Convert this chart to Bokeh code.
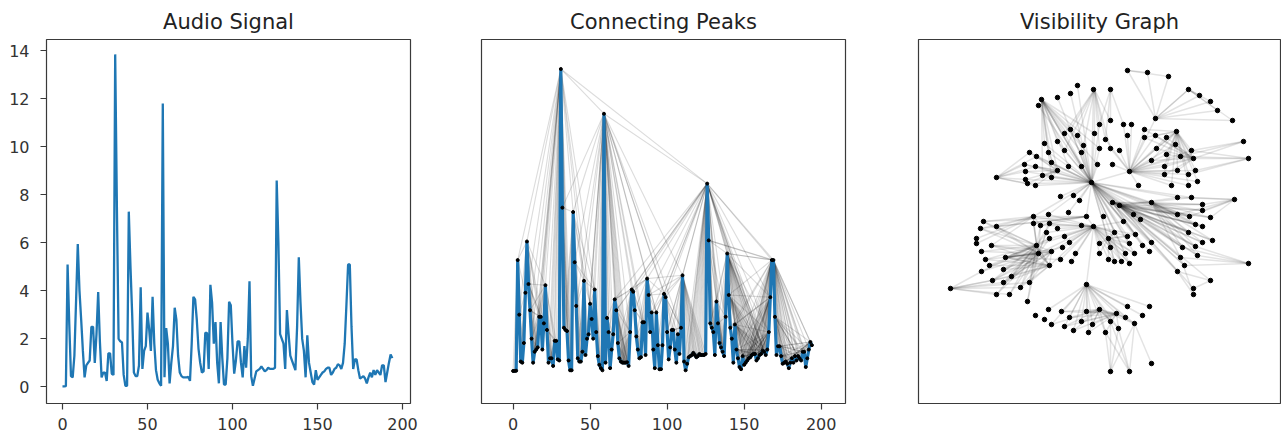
from bokeh.plotting import figure
from bokeh.layouts import row
from bokeh.models import Range1d, FixedTicker
from bokeh.embed import file_html
from bokeh.resources import INLINE

titles = ["Audio Signal", "Connecting Peaks", "Visibility Graph"]
x_ticks = [0, 50, 100, 150, 200]
y_ticks = [0, 2, 4, 6, 8, 10, 12, 14]

signal = [
    .02, .02, .03, 5.1, 2.6, .45, .4, 1.3, 3.6, 5.95,
    4.0, 2.8, 1.5, .4, .9, 1.0, 1.1, 2.5, 2.5, 1.0,
    2.2, 3.95, 1.9, .4, .6, .6, .25, 1.4, 1.4, .55,
    .5, 13.85, 7.5, 2.0, 1.9, 1.85, .5, .05, .05, 7.3,
    5.0, 3.0, .6, .45, .45, .9, 4.15, .75, 1.5, 1.7,
    3.1, 2.4, 1.5, 3.75, 1.8, .7, .3, .15, .05, 11.8,
    .4, 2.45, 1.8, .15, 1.0, 1.7, 3.3, 2.8, 1.3, .6,
    .45, .4, .4, .4, .42, .25, 1.8, 3.75, 3.65, 2.8,
    1.6, 1.0, .6, .65, 2.25, 2.25, .75, 4.25, 3.5, 1.8,
    2.7, 1.0, .15, 2.7, 1.2, .1, .1, 1.2, 3.55, 3.4,
    1.8, .55, 1.1, 1.9, 1.9, 1.0, .4, 1.7, .8, 2.0,
    4.4, .45, .05, .35, .65, .7, .75, .85, .75, .65,
    .7, .8, .75, .75, .75, .8, 8.6, 6.0, 2.2, 2.0,
    1.8, .75, 3.2, 2.2, 1.3, 1.1, .9, .7, 2.5, 5.4,
    3.5, 2.0, 1.5, .4, 2.15, 1.0, .6, .2, .1, .7,
    .3, .4, .5, .6, .65, .75, .8, .8, .5, .6,
    .75, .8, .95, .9, .75, 1.0, 1.8, 3.4, 5.1, 5.1,
    2.5, .75, 1.15, 1.15, .7, .35, .4, .45, .35, .15,
    .4, .6, .4, .7, .5, .7, .6, .5, .9, .9,
    .2, .6, 1.0, 1.35, 1.2,
]

graph_x = [
    1077, 1093, 1070, 1057, 1041, 1038, 1070, 1064, 1077, 1094, 1057, 1044, 1083,
    1029, 1048, 1064, 1081, 1036, 1024, 1035, 1051, 1068, 1081, 1057, 1025, 1042,
    1051, 996, 1025, 1027, 1035, 1091, 1060, 1073, 1079, 1033, 1048, 1068, 1086,
    1127, 1147, 1168, 1110, 1188, 1199, 1210, 1217, 1232, 1155, 1110, 1099, 1123,
    1131, 1144, 1176, 1144, 1155, 1166, 1127, 1105, 1175, 1243, 1099, 1110, 1119,
    1156, 1191, 1166, 1180, 1193, 1248, 1151, 1097, 1112, 1164, 1177, 1195, 1129,
    1164, 1188, 1197, 1171, 1188, 1138, 1177, 1191, 1234, 1151, 1112, 1119, 1202,
    1202, 1133, 1177, 1189, 1210, 1103, 1140,
    983, 996, 980, 1033, 1040, 1049, 1057, 1081, 1093, 1046, 976, 976, 1049, 1064,
    1069, 991, 1036, 1062, 1051, 1038, 1075, 981, 1005, 985, 1060, 1071, 989, 1049,
    1003, 981, 1011, 992, 1003, 1029, 1086, 1020, 950, 996, 1009, 1027, 1048, 1061,
    1086, 1035, 1069, 1044, 1081, 1092, 1051, 1064, 1073, 1088,
    1123, 1195, 1202, 1114, 1135, 1188, 1127, 1108, 1202, 1212, 1151, 1129, 1099,
    1142, 1195, 1182, 1110, 1149, 1125, 1134, 1099, 1180, 1197, 1108, 1114, 1121,
    1129, 1184, 1248, 1177, 1210, 1193, 1193, 1127, 1149, 1099, 1116, 1142, 1125,
    1110, 1134, 1118, 1105, 1151, 1110, 1129,
]
graph_y = [
    85, 89, 93, 97, 99, 105, 129, 133, 135, 133, 141, 143, 145,
    152, 152, 150, 152, 156, 164, 166, 162, 166, 166, 170, 171, 175,
    177, 177, 179, 183, 185, 182, 196, 195, 200, 216, 214, 212, 216,
    70, 72, 76, 89, 89, 95, 101, 110, 120, 118, 120, 124, 124,
    124, 129, 131, 137, 135, 137, 135, 139, 144, 141, 148, 148, 150,
    148, 150, 154, 156, 158, 158, 160, 164, 164, 166, 170, 170, 171,
    174, 174, 181, 185, 185, 185, 197, 197, 199, 202, 202, 205, 204,
    210, 214, 214, 216, 217, 216, 219,
    221, 226, 228, 223, 225, 223, 228, 225, 226, 232, 238, 243, 238, 236,
    242, 245, 245, 247, 251, 253, 253, 251, 257, 259, 259, 261, 265, 265,
    269, 271, 276, 280, 282, 282, 284, 287, 288, 294, 294, 301, 309, 311,
    311, 315, 317, 319, 321, 324, 324, 326, 330, 332,
    221, 224, 226, 232, 234, 232, 236, 238, 242, 240, 242, 243, 243,
    245, 246, 247, 247, 251, 253, 253, 253, 257, 255, 259, 261, 261,
    263, 265, 263, 271, 280, 288, 294, 306, 306, 309, 313, 315, 317,
    321, 323, 328, 332, 363, 371, 371,
]

# which nodes each hub is joined to: a hub and the patch of the layout it fans out over
hub_x = [1091, 1091, 1129, 1155, 1176, 1093, 1093, 1086, 1038, 1036, 1051, 1049, 996, 950,
         1110, 1129, 1151, 1243, 1248, 1248, 1234, 1210, 1193, 1188, 1094, 1110, 1041,
         1108, 1057, 1086, 1033, 1151, 1112, 1119, 1093, 1091, 1155, 1127,
         1099, 1116, 1005, 1193]
hub_y = [182, 182, 171, 118, 131, 226, 226, 284, 253, 245, 251, 265, 177, 288,
         371, 371, 363, 141, 158, 263, 199, 280, 294, 89, 89, 89, 99,
         238, 170, 216, 216, 202, 202, 205, 226, 182, 118, 70,
         309, 313, 257, 158]
box_left = [1024, 1110, 1100, 1127, 1144, 1033, 1095, 1048, 980, 980, 990, 985, 1024, 981,
            1100, 1100, 1125, 1176, 1180, 1180, 1177, 1177, 1150, 1155, 1060, 1095, 1040,
            1095, 1024, 980, 976, 1155, 1133, 1177, 1085, 1125, 1125, 1145,
            1048, 1061, 1029, 1144]
box_right = [1100, 1200, 1200, 1232, 1197, 1093, 1135, 1149, 1050, 1050, 1051, 1050, 1036, 1029,
             1135, 1135, 1136, 1195, 1195, 1200, 1212, 1195, 1180, 1232, 1110, 1123, 1100,
             1135, 1060, 1040, 1040, 1212, 1212, 1212, 1090, 1135, 1135, 1170,
             1134, 1134, 1062, 1180]
box_top = [85, 195, 124, 70, 129, 214, 221, 306, 221, 221, 245, 245, 150, 271,
           320, 320, 320, 144, 150, 240, 197, 270, 245, 95, 120, 120, 130,
           232, 150, 214, 221, 200, 199, 197, 280, 165, 165, 70,
           311, 311, 238, 129]
box_bottom = [216, 275, 190, 121, 185, 265, 263, 333, 301, 301, 290, 290, 186, 294,
              333, 333, 330, 160, 175, 265, 222, 290, 272, 125, 150, 140, 182,
              263, 185, 232, 250, 260, 250, 290, 290, 175, 175, 80,
              333, 333, 265, 175]

xs = list(range(len(signal)))


def visibility_edges(y):
    x0, x1, y0, y1 = [], [], [], []
    for a in range(len(y)):
        for b in range(a + 1, len(y)):
            if all(y[c] < y[a] + (y[b] - y[a]) * (c - a) / (b - a) for c in range(a + 1, b)):
                x0.append(a); x1.append(b); y0.append(y[a]); y1.append(y[b])
    return x0, x1, y0, y1


def hub_edges():
    x0, x1, y0, y1 = [], [], [], []
    for hx, hy, l, r, t, b in zip(hub_x, hub_y, box_left, box_right, box_top, box_bottom):
        for gx, gy in zip(graph_x, graph_y):
            if l <= gx <= r and t <= gy <= b and (gx, gy) != (hx, hy):
                x0.append(hx); x1.append(gx); y0.append(hy); y1.append(gy)
    return x0, x1, y0, y1


def panel(title, left, right, frame_w, x_range, y_range):
    p = figure(title=title, width=left + frame_w + right, height=435,
               frame_width=frame_w, frame_height=364,
               x_range=x_range, y_range=y_range,
               min_border_left=left, min_border_right=right,
               min_border_top=39, min_border_bottom=32,
               output_backend="svg", toolbar_location=None)
    p.grid.visible = False
    p.outline_line_color = "#3a3a3a"
    p.outline_line_width = 1.2
    p.title.align = "center"
    p.title.text_font = "DejaVu Sans"
    p.title.text_font_style = "normal"
    p.title.text_font_size = "21px"
    p.title.text_color = "#222222"
    p.title.offset = 0
    p.title.standoff = 12
    for ax in p.axis:
        ax.major_label_text_font = "DejaVu Sans"
        ax.major_label_text_font_size = "16px"
        ax.major_label_text_color = "#333333"
        ax.axis_line_color = None
        ax.major_tick_line_color = "#3a3a3a"
        ax.major_tick_line_width = 1.2
        ax.major_tick_out = 6
        ax.major_tick_in = 0
        ax.minor_tick_line_color = None
    p.xaxis.major_label_standoff = 8
    p.yaxis.major_label_standoff = 11
    p.xaxis.ticker = FixedTicker(ticks=x_ticks)
    p.yaxis.ticker = FixedTicker(ticks=y_ticks)
    return p


p1 = panel(titles[0], 46, 35, 364, Range1d(-9.4, 204.7), Range1d(-0.69, 14.47))
p1.line(xs, signal, line_color="#1f77b4", line_width=2.3)

p2 = panel(titles[1], 36, 36, 364, Range1d(-20.5, 215.8), Range1d(-1.47, 15.2))
p2.yaxis.visible = False
e = visibility_edges(signal)
p2.segment(e[0], e[2], e[1], e[3], line_color="black", line_alpha=0.14, line_width=1.1)
p2.line(xs, signal, line_color="#1f77b4", line_width=3.2)
p2.scatter(xs, signal, size=3, color="black")

p3 = panel(titles[2], 37, 1, 362, Range1d(918, 1280), Range1d(403, 39))
p3.xaxis.visible = False
p3.yaxis.visible = False
g = hub_edges()
p3.segment(g[0], g[2], g[1], g[3], line_color="black", line_alpha=0.11, line_width=1.5)
p3.scatter(graph_x, graph_y, size=4.5, color="black")

layout = row(p1, p2, p3, spacing=0)
open("out.html", "w").write(file_html(layout, INLINE))
